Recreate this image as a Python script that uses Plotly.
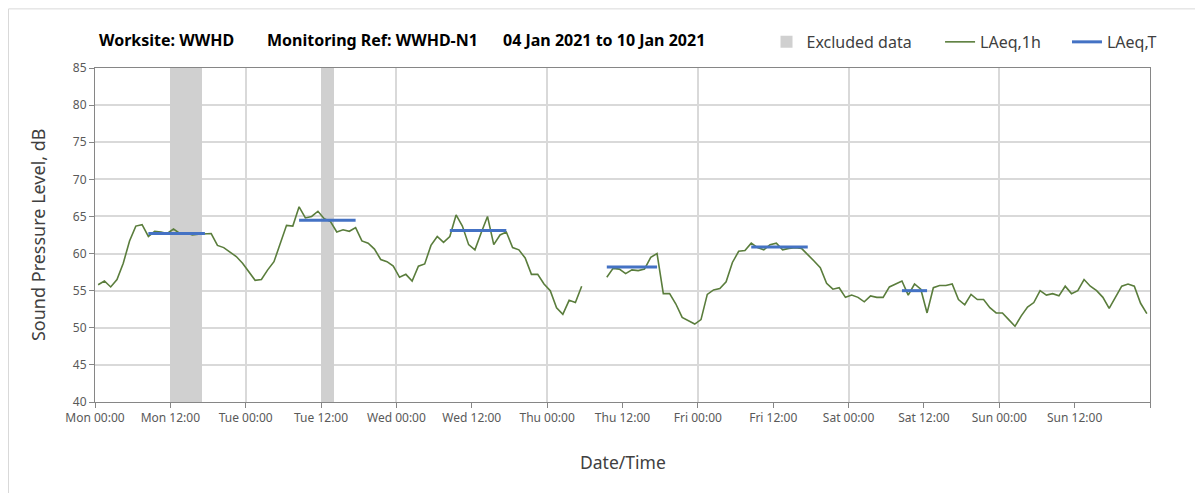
import plotly.graph_objects as go
import pandas as pd

# Hourly LAeq,1h values (dB), one list per day, points at hh:30
mon_laeq = [55.8, 56.3, 55.5, 56.5, 58.7, 61.7, 63.7, 63.9, 62.3, 63.0, 62.9, 62.7,
            63.3, 62.7, 62.8, 62.5, 62.6, 62.6, 62.7, 61.1, 60.8, 60.2, 59.6, 58.7]
tue_laeq = [57.6, 56.4, 56.5, 57.8, 58.9, 61.4, 63.8, 63.7, 66.3, 64.8, 65.0, 65.7,
            64.7, 64.3, 62.9, 63.2, 63.0, 63.5, 61.7, 61.4, 60.6, 59.2, 58.9, 58.3]
wed_laeq = [56.8, 57.2, 56.3, 58.3, 58.6, 61.1, 62.3, 61.5, 62.3, 65.2, 63.7, 61.2,
            60.5, 62.8, 65.0, 61.2, 62.5, 62.9, 60.8, 60.5, 59.4, 57.2, 57.2, 55.9]
thu_laeq = [55.0, 52.7, 51.8, 53.7, 53.4, 55.6, None, None, None, 56.8, 58.0, 57.9,
            57.3, 57.8, 57.7, 57.9, 59.5, 60.0, 54.6, 54.6, 53.2, 51.4, 51.0, 50.5]
fri_laeq = [51.1, 54.5, 55.1, 55.3, 56.2, 58.8, 60.3, 60.4, 61.4, 60.8, 60.5, 61.2,
            61.4, 60.5, 60.7, 60.8, 60.7, 59.9, 59.0, 58.1, 56.0, 55.2, 55.4, 54.1]
sat_laeq = [54.4, 54.1, 53.5, 54.3, 54.1, 54.1, 55.5, 55.9, 56.3, 54.4, 55.9, 55.2,
            52.0, 55.4, 55.7, 55.7, 55.9, 53.8, 53.1, 54.5, 53.8, 53.8, 52.7, 52.0]
sun_laeq = [52.0, 51.1, 50.2, 51.6, 52.8, 53.4, 55.0, 54.4, 54.6, 54.3, 55.6, 54.6,
            55.0, 56.5, 55.6, 55.0, 54.1, 52.6, 54.1, 55.6, 55.9, 55.6, 53.3, 51.9]

# Assessment periods, LAeq,T
period_start = ["2021-01-04 08:30", "2021-01-05 08:30", "2021-01-06 08:30",
                "2021-01-07 09:30", "2021-01-08 08:30", "2021-01-09 08:30"]
period_end = ["2021-01-04 17:30", "2021-01-05 17:30", "2021-01-06 17:30",
              "2021-01-07 17:30", "2021-01-08 17:30", "2021-01-09 12:30"]
period_laeq = [62.7, 64.5, 63.1, 58.2, 60.9, 55.0]

# Excluded data windows
excluded_start = ["2021-01-04 12:00", "2021-01-05 12:00"]
excluded_end = ["2021-01-04 17:00", "2021-01-05 14:00"]

# X axis ticks
tick_times = pd.date_range("2021-01-04", "2021-01-11", freq="12h")
tick_labels = ["Mon 00:00", "Mon 12:00", "Tue 00:00", "Tue 12:00", "Wed 00:00",
               "Wed 12:00", "Thu 00:00", "Thu 12:00", "Fri 00:00", "Fri 12:00",
               "Sat 00:00", "Sat 12:00", "Sun 00:00", "Sun 12:00", ""]

laeq_1h = mon_laeq + tue_laeq + wed_laeq + thu_laeq + fri_laeq + sat_laeq + sun_laeq
times = pd.date_range("2021-01-04 00:30", periods=len(laeq_1h), freq="h")

ex_s = pd.to_datetime(excluded_start)
ex_e = pd.to_datetime(excluded_end)
ex_mid = ex_s + (ex_e - ex_s) / 2
ex_w = [(e - s).total_seconds() * 1000 for s, e in zip(ex_s, ex_e)]

px_, py_ = [], []
for s, e, v in zip(period_start, period_end, period_laeq):
    px_ += [s, e, None]
    py_ += [v, v, None]

FONT = "Noto Sans"
fig = go.Figure()

fig.add_trace(go.Bar(
    name="Excluded data", x=ex_mid, y=[45] * len(ex_mid), base=40, width=ex_w,
    marker=dict(color="#d0d0d0", line_width=0), hoverinfo="skip", legend="legend"
))
fig.add_trace(go.Scatter(
    name="LAeq,1h", x=times, y=laeq_1h, mode="lines",
    line=dict(color="#5a7d3c", width=1.6), connectgaps=False, legend="legend2"
))
fig.add_trace(go.Scatter(
    name="LAeq,T", x=px_, y=py_, mode="lines",
    line=dict(color="#4472c4", width=3), legend="legend3"
))

title_parts = [("Worksite: WWHD", 0.002), ("Monitoring Ref: WWHD-N1", 0.161),
               ("04 Jan 2021 to 10 Jan 2021", 0.385)]
for txt, xp in title_parts:
    fig.add_annotation(text="<b>" + txt + "</b>", x=xp, y=1.084, xref="paper", yref="paper",
                       xanchor="left", yanchor="middle", showarrow=False,
                       font=dict(family=FONT, size=16, color="#000000"))

fig.add_annotation(text="Sound Pressure Level, dB", x=-0.054, y=0.5, xref="paper", yref="paper",
                   textangle=-90, showarrow=False, xanchor="center", yanchor="middle",
                   font=dict(family=FONT, size=18, color="#404040"))
fig.add_annotation(text="Date/Time", x=0.50, y=-0.18, xref="paper", yref="paper",
                   showarrow=False, xanchor="center", yanchor="middle",
                   font=dict(family=FONT, size=17.5, color="#404040"))

# outer chart border
fig.add_shape(type="rect", xref="paper", yref="paper", x0=-0.0820, x1=1.06, y0=-0.3, y1=1.177,
              line=dict(color="#d9d9d9", width=1), fillcolor="rgba(0,0,0,0)", layer="below")

leg_common = dict(orientation="h", y=1.078, xanchor="left", yanchor="middle",
                  font=dict(family=FONT, size=16, color="#404040"),
                  bgcolor="rgba(0,0,0,0)", borderwidth=0)

fig.update_layout(
    width=1195, height=485,
    margin=dict(l=87, r=53, t=60, b=91),
    paper_bgcolor="white", plot_bgcolor="white",
    barmode="overlay", bargap=0,
    showlegend=True,
    legend=dict(x=0.6365, **leg_common),
    legend2=dict(x=0.801, **leg_common),
    legend3=dict(x=0.9213, **leg_common),
    font=dict(family=FONT, size=12, color="#595959"),
)
fig.update_xaxes(
    type="date", range=["2021-01-04", "2021-01-11"],
    tickvals=tick_times, ticktext=tick_labels,
    ticks="outside", ticklen=5, tickcolor="#868686",
    showline=True, linecolor="#868686", linewidth=1, mirror=True,
    showgrid=False, zeroline=False,
    minor=dict(dtick=86400000, tick0="2021-01-04", showgrid=True, gridcolor="#d9d9d9",
               gridwidth=1.5, ticks=""),
    tickfont=dict(family=FONT, size=12, color="#595959"),
)
fig.update_yaxes(
    range=[40, 85], dtick=5, tick0=40,
    ticks="outside", ticklen=5, tickcolor="#868686",
    showline=True, linecolor="#868686", linewidth=1, mirror=True,
    showgrid=True, gridcolor="#d9d9d9", gridwidth=1.5, zeroline=False,
    tickfont=dict(family=FONT, size=12, color="#595959"),
)

fig.write_html("out.html")
